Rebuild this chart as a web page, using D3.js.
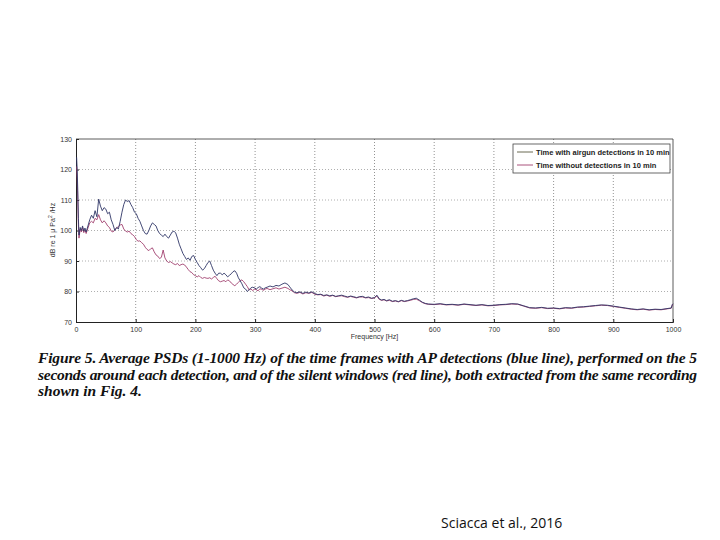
<!DOCTYPE html>
<html>
<head>
<meta charset="utf-8">
<script src="https://cdn.jsdelivr.net/npm/d3@7/dist/d3.min.js"></script>
<style>
html,body{margin:0;padding:0;background:#fff;}
svg{display:block;}
</style>
</head>
<body>
<svg id="chart" width="720" height="540"></svg>
<script>
// ---- data ----
const freqs = [1,2,3,4,5,7,9,11,13,15,17,20,23,26,29,32,35,38,41,44,47,50,53,56,59,62,65,68,71,74,77,80,83,86,89,92,95,98,101,104,107,110,113,116,119,122,125,128,131,134,137,140,143,146,149,152,155,158,161,164,167,170,173,176,179,182,185,188,191,194,197,200,203,206,209,212,215,218,221,224,227,230,233,236,239,242,245,248,251,254,257,260,263,266,269,272,275,278,281,284,287,290,293,296,299,302,305,308,311,314,317,320,325,330,335,340,345,350,355,358,362,366,370,375,380,385,390,395,400,405,410,415,420,425,430,435,440,445,450,455,460,465,470,475,480,485,490,495,500,504,508,512,516,520,525,530,535,540,545,550,555,560,565,570,575,580,585,590,600,610,620,630,640,650,660,670,680,690,700,710,720,730,740,750,760,770,780,790,800,810,820,830,840,850,860,870,880,890,900,910,920,930,940,950,960,970,980,990,997,999,1000];

const withAirgun = [124,120,113,104,98.5,101,100,101.5,99.8,100.8,99.5,101.5,103.5,105,104,106.5,104.5,110.3,108,106.5,107.5,107,105.5,106,103.5,102,100,101,100.5,103,106,108.5,110,109.5,109.8,108.5,107.5,106,105.5,104,103,101.5,100,99,98.8,100,101.5,102.5,102,101.5,100,99,98.5,98,98.8,98,97.5,98.5,99.5,99.8,99.2,97.5,95.5,94,92.5,91.5,90.5,91,90.2,91.5,91.8,90.5,89.5,88.5,87.8,87,87.5,88.5,89.5,90,88.5,87,86,85.2,86,86,85.5,86,85.5,84.8,85.3,85.8,86.5,86.8,86,84.5,83.5,82.5,81.2,80.8,80,80.6,81.2,81.4,81.2,80.8,81.3,81.6,81.1,80.8,81.2,81.4,81.8,81.5,82,81.8,82.4,82.8,82.3,81.5,80.5,79.8,79.6,79.9,79.4,79.8,79.5,79.9,79.3,79.0,79.1,78.7,78.9,78.6,78.8,78.4,78.6,78.8,78.5,78.2,78.5,78.3,78.0,78.3,78.4,78.0,78.2,77.8,78.0,78.8,77.6,77.2,77.4,77.0,77.3,76.8,77.0,76.7,77.1,76.8,77.0,77.3,77.6,77.8,77.2,76.5,76.1,75.9,75.8,76.0,75.7,75.8,75.6,75.9,75.7,75.5,75.7,75.4,75.5,75.7,75.8,76.0,75.9,75.3,74.7,74.6,74.8,74.5,74.6,74.4,74.7,74.6,74.9,75.0,75.2,75.4,75.6,75.5,75.2,74.9,74.6,74.3,74.1,74.3,74.0,74.2,74.1,74.4,74.6,75.8,76.0];

const withoutDetections = [121,117,110,102,97.5,100.5,99.5,101,99.3,100.2,99,100.8,102.5,103,102.5,104,103.5,105.2,103.5,102.5,103.2,102.5,101.5,101,99.8,99.5,100.3,100.8,101.3,101.8,102,100.5,99.8,99.5,99.8,99,98.6,98,97,96.5,96.6,96,95.5,94.5,93.8,93.4,94,94.3,93,92,91.6,90.8,91.2,93.6,91,90,89.5,89.8,89.4,89,88.8,89.2,88.5,88.8,89,88.7,88,87.2,86.5,86.2,85.5,85.2,84.8,85.2,84.6,84.3,84.6,84.4,84.3,84.5,84.1,84.6,85,84.2,83.5,83.2,83.4,83.6,83.2,83.8,83.5,82.8,82.3,81.9,82.4,83,83.6,83.8,83.2,82.4,81.6,80.5,80.8,80.3,80.8,80.6,80.2,80.9,80.7,80.4,80.8,81,80.6,80.9,81.2,80.8,81.1,81.4,81,80.6,80.2,79.6,79.4,79.7,79.2,79.6,79.4,79.7,79.1,78.9,79.0,78.5,78.8,78.4,78.7,78.3,78.5,78.6,78.3,78.1,78.4,78.1,77.9,78.2,78.2,77.9,78.0,77.7,77.9,78.5,77.4,77.1,77.3,76.9,77.1,76.7,76.9,76.6,77.0,76.7,76.9,77.1,77.4,77.5,77.0,76.4,76.0,75.8,75.7,75.9,75.6,75.7,75.5,75.8,75.6,75.4,75.6,75.3,75.4,75.6,75.7,75.9,75.8,75.2,74.6,74.5,74.7,74.4,74.5,74.3,74.6,74.5,74.8,74.9,75.1,75.3,75.5,75.4,75.1,74.8,74.5,74.2,74.0,74.2,73.9,74.1,74.0,74.3,74.5,75.6,75.9];

const xTicks = [0,100,200,300,400,500,600,700,800,900,1000];
const yTicks = [70,80,90,100,110,120,130];
const seriesNames = ["Time with airgun detections in 10 min","Time without detections in 10 min"];
const captionLines = [
  "Figure 5. Average PSDs (1-1000 Hz) of the time frames with AP detections (blue line), performed on the 5",
  "seconds around each detection, and of the silent windows (red line), both extracted from the same recording",
  "shown in Fig. 4."
];
const credit = "Sciacca et al., 2016";

// ---- layout ----
const svg = d3.select("#chart");
const L = 76, R = 673, T = 139, B = 322;
const x = d3.scaleLinear().domain([0,1000]).range([L,R]);
const y = d3.scaleLinear().domain([70,130]).range([B,T]);
const colBlue = "#2f3566", colRed = "#a0406e";

// grid
const g = svg.append("g");
g.selectAll("line.hg").data(yTicks.slice(1,-1)).join("line")
  .attr("x1",L).attr("x2",R).attr("y1",d=>y(d)).attr("y2",d=>y(d))
  .attr("stroke","#9a9a9a").attr("stroke-width",0.8).attr("stroke-dasharray","1,2");
g.selectAll("line.vg").data(xTicks.slice(1,-1)).join("line")
  .attr("y1",T).attr("y2",B).attr("x1",d=>x(d)).attr("x2",d=>x(d))
  .attr("stroke","#777").attr("stroke-width",0.8).attr("stroke-dasharray","1,2");

// axes
const xAxis = d3.axisBottom(x).tickValues(xTicks).tickSize(-3).tickPadding(5).tickFormat(d3.format("d"));
const yAxis = d3.axisLeft(y).tickValues(yTicks).tickSize(-3).tickPadding(4).tickFormat(d3.format("d"));
const xa = svg.append("g").attr("transform",`translate(0,${B})`).call(xAxis);
const ya = svg.append("g").attr("transform",`translate(${L},0)`).call(yAxis);
[xa,ya].forEach(a=>{
  a.select(".domain").attr("stroke","#222").attr("stroke-width",1);
  a.selectAll(".tick line").attr("stroke","#222");
  a.selectAll("text").attr("font-family","Liberation Sans, Arial, sans-serif").attr("font-size",7).attr("fill","#333");
});
// top and right frame
svg.append("line").attr("x1",L).attr("x2",R).attr("y1",T).attr("y2",T).attr("stroke","#333").attr("stroke-width",0.8);
svg.append("line").attr("x1",R).attr("x2",R).attr("y1",T).attr("y2",B).attr("stroke","#333").attr("stroke-width",0.8);

// lines
const lineGen = vals => d3.line().x((d,i)=>x(freqs[i])).y(d=>y(d))(vals);
svg.append("path").attr("d",lineGen(withoutDetections)).attr("fill","none").attr("stroke",colRed).attr("stroke-width",0.9);
svg.append("path").attr("d",lineGen(withAirgun)).attr("fill","none").attr("stroke",colBlue).attr("stroke-width",0.9);

// axis labels
svg.append("text").attr("x",(L+R)/2).attr("y",339).attr("text-anchor","middle")
  .attr("font-family","Liberation Sans, Arial, sans-serif").attr("font-size",7).attr("fill","#333").text("Frequency [Hz]");
const yl = svg.append("text").attr("transform","translate(55,230) rotate(-90)").attr("text-anchor","middle")
  .attr("font-family","Liberation Sans, Arial, sans-serif").attr("font-size",7).attr("fill","#333");
yl.append("tspan").text("dB re 1 μ Pa");
yl.append("tspan").attr("dy",-3).attr("font-size",5).text("2");
yl.append("tspan").attr("dy",3).text(" /Hz");

// legend
const lg = svg.append("g");
lg.append("rect").attr("x",513).attr("y",144).attr("width",157).attr("height",29)
  .attr("fill","#fff").attr("stroke","#444").attr("stroke-width",0.8);
[colBlue,colRed].forEach((c,i)=>{
  const yy = 152 + i*13;
  lg.append("line").attr("x1",517).attr("x2",533).attr("y1",yy).attr("y2",yy).attr("stroke",i===0?"#5a5a40":c).attr("stroke-width",0.9);
  lg.append("text").attr("x",536).attr("y",yy+2.5).attr("font-family","Liberation Sans, Arial, sans-serif")
    .attr("font-size",7.5).attr("font-weight","bold").attr("fill","#222").text(seriesNames[i]);
});

// caption
captionLines.forEach((t,i)=>{
  const tx = svg.append("text").attr("x",38).attr("y",363 + i*16.7)
    .attr("font-family","Liberation Serif, Times New Roman, serif").attr("font-size",15.5)
    .attr("font-weight","bold").attr("font-style","italic").attr("fill","#111").text(t);
  if(i<2) tx.attr("textLength",659).attr("lengthAdjust","spacing");
});

// credit
svg.append("text").attr("x",441).attr("y",528).attr("font-family","Open Sans, Noto Sans, sans-serif")
  .attr("font-size",14).attr("fill","#111").text(credit);
</script>
</body>
</html>
